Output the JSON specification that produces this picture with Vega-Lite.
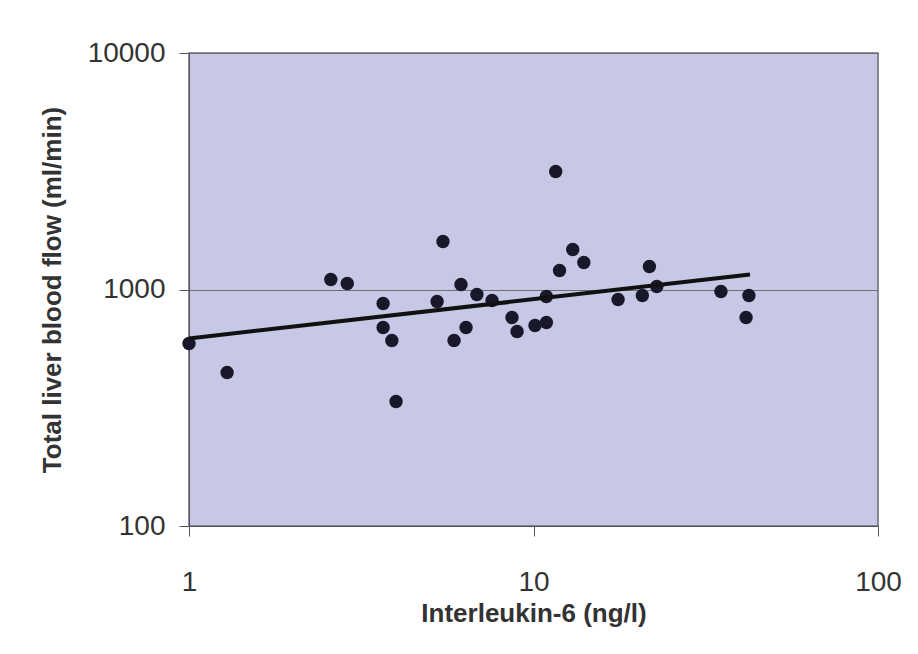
{
  "$schema": "https://vega.github.io/schema/vega-lite/v6.json",
  "width": 689,
  "height": 473,
  "autosize": {"type": "none"},
  "padding": {"left": 189, "top": 53, "right": 40, "bottom": 128},
  "background": "white",
  "config": {
    "view": {"fill": "#c7c7e6", "stroke": "#6a6a7a", "strokeWidth": 1.5},
    "axis": {
      "labelFont": "Liberation Sans",
      "titleFont": "Liberation Sans",
      "labelFontSize": 28,
      "titleFontSize": 26,
      "titleFontWeight": "bold",
      "labelColor": "#333333",
      "titleColor": "#333333",
      "domainColor": "#555555",
      "tickColor": "#555555",
      "tickSize": 10,
      "gridColor": "#707070",
      "gridWidth": 1
    }
  },
  "datasets": {
    "points": [
      {"il6": 1.0, "flow": 591},
      {"il6": 1.29, "flow": 446},
      {"il6": 2.58, "flow": 1102},
      {"il6": 2.88, "flow": 1060},
      {"il6": 3.66, "flow": 873},
      {"il6": 3.66, "flow": 691},
      {"il6": 3.88, "flow": 609},
      {"il6": 3.99, "flow": 336},
      {"il6": 5.25, "flow": 890},
      {"il6": 5.46, "flow": 1597},
      {"il6": 5.88, "flow": 609},
      {"il6": 6.16, "flow": 1050},
      {"il6": 6.37, "flow": 691},
      {"il6": 6.85, "flow": 953},
      {"il6": 7.58, "flow": 898},
      {"il6": 8.66, "flow": 761},
      {"il6": 8.96, "flow": 664},
      {"il6": 10.1, "flow": 704},
      {"il6": 10.9, "flow": 725},
      {"il6": 10.9, "flow": 934},
      {"il6": 11.6, "flow": 3155},
      {"il6": 11.9, "flow": 1203},
      {"il6": 13.0, "flow": 1476},
      {"il6": 14.0, "flow": 1301},
      {"il6": 17.6, "flow": 907},
      {"il6": 20.7, "flow": 943},
      {"il6": 21.7, "flow": 1251},
      {"il6": 22.8, "flow": 1030},
      {"il6": 35.0, "flow": 981},
      {"il6": 42.2, "flow": 943},
      {"il6": 41.4, "flow": 761}
    ],
    "fit": [
      {"il6": 1.0, "flow": 621},
      {"il6": 42.5, "flow": 1157}
    ]
  },
  "encoding": {
    "x": {
      "field": "il6",
      "type": "quantitative",
      "scale": {"type": "log", "domain": [1, 100]},
      "axis": {
        "values": [1, 10, 100],
        "format": ".0f",
        "grid": false,
        "labelPadding": 32,
        "labelFlush": false,
        "title": "Interleukin-6 (ng/l)",
        "titleY": 87,
        "titleX": 344.5,
        "titleBaseline": "middle",
        "titleAlign": "center"
      }
    },
    "y": {
      "field": "flow",
      "type": "quantitative",
      "scale": {"type": "log", "domain": [100, 10000]},
      "axis": {
        "values": [100, 1000, 10000],
        "format": ".0f",
        "grid": true,
        "labelPadding": 14,
        "labelFlush": false,
        "title": "Total liver blood flow (ml/min)",
        "titleX": -137,
        "titleY": 236.5,
        "titleAngle": -90,
        "titleBaseline": "middle",
        "titleAlign": "center"
      }
    }
  },
  "layer": [
    {
      "data": {"name": "points"},
      "mark": {"type": "circle", "size": 180, "color": "#18182a", "opacity": 1}
    },
    {
      "data": {"name": "fit"},
      "mark": {"type": "line", "color": "#111111", "strokeWidth": 4}
    }
  ]
}
